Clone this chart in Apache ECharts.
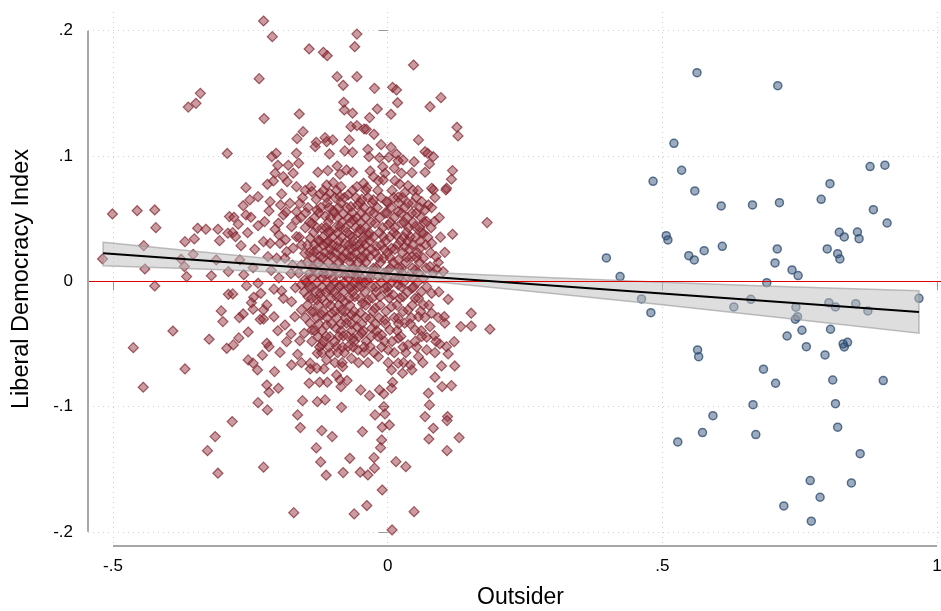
<!DOCTYPE html>
<html><head><meta charset="utf-8">
<script src="https://cdn.jsdelivr.net/npm/echarts@6/dist/echarts.min.js"></script>
<style>html,body{margin:0;padding:0;background:#fff}#c{width:941px;height:611px}</style>
</head><body><div id="c"></div>
<script>
const xTicks=[-0.5,0,0.5,1];
const xTickLabels=['-.5','0','.5','1'];
const yTicks=[-0.2,-0.1,0,0.1,0.2];
const yTickLabels=['-.2','-.1','0','.1','.2'];
const xTitle='Outsider';
const yTitle='Liberal Democracy Index';

// Outsider = 0 group (red diamonds): [outsider, liberal democracy index]
const redPts=[
[-0.341,0.150],[-0.349,0.142],[-0.363,0.139],[-0.292,0.102],
[-0.226,0.2077],[-0.210,0.1952],[-0.143,0.1854],[-0.117,0.1827],[-0.110,0.180],[-0.056,0.1973],[-0.060,0.1872],[-0.234,0.1617],[-0.092,0.1633],[-0.081,0.1564],[-0.056,0.1633],[-0.080,0.1428],[-0.079,0.1367],[-0.064,0.1341],[-0.225,0.1298],[-0.161,0.1335],[-0.154,0.1194],[-0.165,0.1138],[-0.067,0.1234],[-0.056,0.1242],[-0.043,0.1215],[-0.130,0.1109],[-0.132,0.1074],[-0.114,0.1146],[-0.111,0.1114],[-0.100,0.1128],[-0.070,0.1128],[-0.078,0.104],[-0.064,0.1029],[-0.106,0.1016],[-0.166,0.1021],[-0.162,0.0942],[-0.203,0.1021],[-0.211,0.0994],[-0.200,0.0926],[-0.181,0.0926],[-0.172,0.0862],[-0.205,0.0862],[-0.190,0.0835],[-0.183,0.0795],[-0.127,0.0870],[-0.109,0.0883],[-0.092,0.0920],[-0.087,0.0854],[-0.075,0.0888],[-0.064,0.0870],[-0.258,0.0747],[-0.219,0.0774],[-0.208,0.0800],[-0.166,0.0755],[-0.140,0.0755],[-0.111,0.0768],[-0.099,0.0787],[-0.085,0.0755],[-0.056,0.0755],[-0.044,0.0782],
[0.047,0.1726],[-0.024,0.154],[0.009,0.1548],[0.016,0.1527],[0.018,0.1425],[0.097,0.1465],[0.077,0.1393],[-0.019,0.1375],[-0.033,0.1306],[0.006,0.1333],[-0.039,0.1213],[-0.025,0.1173],[0.126,0.1229],[0.128,0.116],[0.056,0.1128],[-0.012,0.109],[-0.036,0.1053],[0.006,0.1069],[-0.034,0.0994],[-0.015,0.0986],[0.002,0.099],[0.016,0.1016],[0.068,0.1034],[0.073,0.1021],[0.083,0.0994],[0.019,0.0962],[0.028,0.0968],[0.048,0.0954],[0.076,0.0936],[-0.009,0.0914],[0.012,0.0902],[-0.032,0.0880],[-0.005,0.0862],[0.025,0.0862],[0.044,0.0867],[0.068,0.0870],[0.118,0.0883],[0.116,0.0814],[-0.026,0.0835],[-0.017,0.0803],[-0.008,0.0808],[0.013,0.0803],[0.022,0.0776],[0.037,0.0763],[0.080,0.0742],[0.107,0.0742],[-0.038,0.0747],
[-0.501,0.0537],[-0.456,0.0563],[-0.424,0.0569],[-0.422,0.0428],[-0.444,0.0284],[-0.519,0.0178],[-0.442,0.0098],[-0.424,-0.0038],[-0.369,0.0316],[-0.352,0.0338],[-0.346,0.0423],[-0.331,0.0415],[-0.309,0.0415],[-0.306,0.0324],[-0.291,0.0383],[-0.288,0.0516],[-0.354,0.0215],[-0.376,0.0176],[-0.370,0.0117],[-0.366,0.0037],[-0.290,0.0077],[-0.290,-0.0104],[-0.303,-0.0237],[-0.391,-0.0397],[-0.325,-0.0463],[-0.463,-0.0530],[-0.293,-0.0535],[-0.369,-0.0700],
[-0.445,-0.0846],[-0.314,-0.1240],[-0.328,-0.1352],[-0.309,-0.1532],
[-0.237,-0.0708],[-0.206,-0.0721],[-0.220,-0.0828],[-0.216,-0.0886],[-0.199,-0.0854],[-0.236,-0.0969],[-0.219,-0.1027],[-0.283,-0.1120],[-0.143,-0.0814],[-0.124,-0.0806],[-0.110,-0.0806],[-0.155,-0.0953],[-0.128,-0.0961],[-0.114,-0.0947],[-0.093,-0.0748],[-0.087,-0.0788],[-0.085,-0.0841],[-0.074,-0.0793],[-0.049,-0.0867],[-0.084,-0.1006],[-0.164,-0.1067],[-0.159,-0.1168],[-0.120,-0.1192],[-0.101,-0.1240],[-0.046,-0.1200],[-0.130,-0.1330],[-0.069,-0.1413],[-0.122,-0.1442],[-0.112,-0.1548],[-0.081,-0.1527],[-0.050,-0.1524],[-0.226,-0.1484],[-0.171,-0.1847],[-0.061,-0.1857],[-0.038,-0.179],[-0.141,-0.070],[-0.116,-0.070],
[0.007,-0.0708],[0.027,-0.0734],[0.044,-0.0708],[0.086,-0.0766],[0.099,-0.0841],[0.116,-0.0833],[0.074,-0.0894],[0.076,-0.0987],[-0.033,-0.0913],[-0.015,-0.0867],[-0.007,-0.0899],[0.007,-0.0854],[0.009,-0.0806],[-0.007,-0.1001],[-0.023,-0.1067],[-0.005,-0.1059],[0.068,-0.1080],[0.109,-0.1080],[0.108,-0.1112],[-0.010,-0.1165],[0.003,-0.1147],[0.083,-0.1173],[0.075,-0.1259],[0.130,-0.1248],[-0.011,-0.1267],[-0.013,-0.1328],[0.108,-0.1352],[-0.025,-0.1408],[0.015,-0.144],[0.033,-0.148],[-0.024,-0.1492],[-0.036,-0.1546],[-0.010,-0.1666],[0.048,-0.1839],[0.008,-0.1985],
[-0.263,0.0603],[-0.280,0.0511],[-0.258,0.0529],[-0.249,0.0511],[-0.216,0.0561],[-0.195,0.0609],[-0.193,0.0697],[-0.282,0.0388],[-0.277,0.0356],[-0.242,0.0255],[-0.226,0.0316],[-0.214,0.0303],[-0.198,0.0369],[-0.196,0.0303],[-0.218,0.0196],[-0.202,0.0184],[-0.184,0.0236],[-0.166,0.0356],[-0.157,0.0290],[-0.269,0.0170],[-0.257,-0.0035],[-0.236,-0.0016],[-0.231,-0.0096],[-0.282,-0.0101],[-0.248,-0.0171],[-0.245,-0.0223],[-0.220,-0.0189],[-0.226,-0.0229],[-0.263,-0.0261],[-0.270,-0.0290],[-0.226,-0.0301],[-0.207,-0.0283],[-0.193,-0.0077],[-0.190,-0.0136],[-0.175,-0.0163],[-0.169,-0.0283],[-0.187,-0.0349],[-0.152,-0.0415],[-0.138,-0.0389],[-0.281,-0.0508],[-0.220,-0.0495],[-0.216,-0.0522],[-0.184,-0.0482],[-0.254,-0.0628],[-0.245,-0.0654],[-0.175,-0.0668],[-0.141,-0.0654],[-0.128,-0.0575],[-0.120,-0.0508],[-0.111,-0.0628],[-0.096,-0.0650],[-0.082,-0.0682],[-0.129,-0.0694],
[-0.199,0.0463],[-0.190,0.0529],[-0.175,0.0436],[-0.166,0.0555],[-0.178,0.0622],[-0.214,0.0635],[-0.236,0.0675],[-0.251,0.0649],[-0.166,0.0489],[-0.187,0.0184],
[-0.160,0.0622],[-0.138,0.0715],[-0.130,0.0654],[-0.123,0.0697],[-0.105,0.0702],[-0.087,0.0675],[-0.072,0.0689],[-0.055,0.0609],[-0.067,0.0595],[-0.047,0.0654],[-0.149,0.0547],[-0.129,0.0569],[-0.114,0.0521],[-0.099,0.0563],[-0.081,0.0537],[-0.063,0.0489],[-0.138,0.0463],[-0.120,0.0423],[-0.105,0.0396],[-0.087,0.0436],[-0.069,0.0369],[-0.050,0.0415],[-0.141,0.0343],[-0.126,0.0330],[-0.111,0.0303],[-0.093,0.0276],[-0.078,0.0303],[-0.060,0.0276],[-0.151,0.0223],[-0.134,0.0236],[-0.123,0.0196],[-0.105,0.0210],[-0.084,0.0184],[-0.069,0.0196],[-0.050,0.0184],[-0.157,-0.0030],[-0.138,-0.0048],[-0.123,-0.0096],[-0.105,-0.0069],[-0.087,-0.0030],[-0.070,-0.0056],[-0.054,-0.0043],[-0.145,-0.0123],[-0.129,-0.0149],[-0.111,-0.0176],[-0.093,-0.0123],[-0.078,-0.0163],[-0.060,-0.0123],[-0.046,-0.0176],[-0.157,-0.0229],[-0.135,-0.0243],[-0.120,-0.0269],[-0.102,-0.0255],[-0.084,-0.0229],[-0.066,-0.0269],[-0.050,-0.0251],[-0.141,-0.0335],[-0.111,-0.0349],[-0.094,-0.0375],[-0.075,-0.0335],[-0.056,-0.0362],[-0.105,-0.0442],[-0.081,-0.0437],[-0.063,-0.0455],[-0.047,-0.0415],[-0.093,-0.0522],[-0.072,-0.0522],[-0.054,-0.0548],[-0.105,-0.0575],[-0.066,-0.0615],[-0.157,0.0130],[-0.135,0.0104],[-0.117,0.0064],[-0.096,0.0090],[-0.078,0.0050],[-0.060,0.0077],[-0.047,0.0024],[-0.151,0.0010],[-0.111,-0.0003],
[0.181,0.0468],[0.118,0.0375],[0.104,0.0231],[0.101,0.0077],[0.110,-0.0144],[0.152,-0.0255],[0.152,-0.0357],[0.133,-0.0362],[0.186,-0.0383],[0.106,0.0729],[0.083,0.0729],[0.019,0.0670],[0.085,0.0476],[0.088,0.0196],[0.089,0.0096],[0.080,-0.0096],[0.080,-0.0255],[0.103,-0.0283],[0.104,-0.0335],[0.107,-0.0522],[0.121,-0.0482],[0.110,-0.0580],[0.122,-0.0676],[0.098,-0.0676],[0.095,-0.0500],[0.071,-0.0548],[0.085,-0.0434],[0.077,-0.0362],[0.071,-0.0447],[0.037,-0.0508],[0.019,-0.0455],[0.001,-0.0548],[-0.017,-0.0602],[-0.032,-0.0522],[0.056,-0.0602],[0.041,-0.0668],[0.019,-0.0654],[-0.029,-0.0375],[-0.011,-0.0429],[0.004,-0.0389],[0.031,-0.0335],[0.050,-0.0389],[0.056,-0.0283],[0.037,-0.0229],[0.019,-0.0295],[-0.005,-0.0309],[-0.032,-0.0295],[-0.023,-0.0215],[0.007,-0.0203],[0.065,-0.0189],[0.050,-0.0136],[0.028,-0.0123],[0.010,-0.0109],[-0.014,-0.0123],[-0.035,-0.0149],[-0.029,-0.0043],[-0.005,-0.0056],[0.019,-0.0030],[0.044,-0.0056],[0.071,-0.0043],[0.065,0.0024],[0.037,0.0037],[0.013,0.0024],[-0.017,0.0037],[-0.038,0.0010],[-0.026,0.0104],[0.001,0.0090],[0.025,0.0104],[0.050,0.0090],[0.077,0.0117],[0.065,0.0184],[0.044,0.0196],[0.019,0.0170],[-0.008,0.0184],[-0.032,0.0196],[-0.020,0.0276],[0.007,0.0263],[0.031,0.0276],[0.059,0.0263],[0.080,0.0303],[0.065,0.0383],[0.041,0.0356],[0.016,0.0369],[-0.008,0.0356],[-0.035,0.0369],[-0.023,0.0463],[0.001,0.0449],[0.025,0.0463],[0.050,0.0436],[0.071,0.0476],[0.068,0.0569],[0.044,0.0543],[0.019,0.0555],[-0.005,0.0543],[-0.032,0.0555],[-0.026,0.0649],[-0.002,0.0635],[0.037,0.0622],[0.062,0.0635],[0.074,0.0609],[0.031,0.0707],
// dense core (overlapping marks, estimated)
[-0.150,0.0725],[-0.117,0.0725],[-0.093,0.0725],[-0.064,0.0725],[-0.040,0.0725],[-0.018,0.0725],[0.008,0.0725],[0.046,0.0725],[0.055,0.0725],
[-0.155,0.0668],[-0.112,0.0668],[-0.096,0.0668],[-0.079,0.0668],[-0.058,0.0668],[-0.036,0.0668],[-0.012,0.0668],[0.011,0.0668],[0.027,0.0668],[0.052,0.0668],[0.086,0.0668],
[-0.145,0.0588],[-0.122,0.0588],[-0.107,0.0588],[-0.090,0.0588],[-0.074,0.0588],[-0.043,0.0588],[-0.019,0.0588],[0.006,0.0588],[0.031,0.0588],[0.058,0.0588],[0.080,0.0588],
[-0.158,0.0508],[-0.133,0.0508],[-0.104,0.0508],[-0.091,0.0508],[-0.071,0.0508],[-0.056,0.0508],[-0.041,0.0508],[-0.014,0.0508],[0.012,0.0508],[0.036,0.0508],[0.061,0.0508],[0.094,0.0508],
[-0.150,0.0428],[-0.129,0.0428],[-0.112,0.0428],[-0.095,0.0428],[-0.077,0.0428],[-0.058,0.0428],[-0.040,0.0428],[-0.009,0.0428],[0.013,0.0428],[0.038,0.0428],[0.058,0.0428],[0.079,0.0428],
[-0.161,0.0352],[-0.118,0.0352],[-0.101,0.0352],[-0.084,0.0352],[-0.064,0.0352],[-0.045,0.0352],[-0.026,0.0352],[0.004,0.0352],[0.029,0.0352],[0.051,0.0352],[0.073,0.0352],[0.096,0.0352],
[-0.146,0.0290],[-0.133,0.0290],[-0.117,0.0290],[-0.101,0.0290],[-0.071,0.0290],[-0.052,0.0290],[-0.041,0.0290],[-0.012,0.0290],[0.018,0.0290],[0.045,0.0290],[0.069,0.0290],
[-0.142,0.0228],[-0.114,0.0228],[-0.095,0.0228],[-0.076,0.0228],[-0.059,0.0228],[-0.039,0.0228],[-0.023,0.0228],[0.000,0.0228],[0.027,0.0228],[0.054,0.0228],[0.078,0.0228],
[-0.147,0.0150],[-0.126,0.0150],[-0.108,0.0150],[-0.088,0.0150],[-0.068,0.0150],[-0.054,0.0150],[-0.040,0.0150],[-0.013,0.0150],[0.010,0.0150],[0.033,0.0150],[0.058,0.0150],[0.092,0.0150],
[-0.162,0.0065],[-0.142,0.0065],[-0.126,0.0065],[-0.105,0.0065],[-0.087,0.0065],[-0.069,0.0065],[-0.053,0.0065],[-0.030,0.0065],[-0.007,0.0065],[0.026,0.0065],[0.056,0.0065],[0.083,0.0065],
[-0.148,-0.0010],[-0.128,-0.0010],[-0.096,-0.0010],[-0.079,-0.0010],[-0.061,-0.0010],[-0.043,-0.0010],[-0.012,-0.0010],[0.007,-0.0010],[0.029,-0.0010],[0.054,-0.0010],
[-0.152,-0.0085],[-0.132,-0.0085],[-0.113,-0.0085],[-0.097,-0.0085],[-0.080,-0.0085],[-0.064,-0.0085],[-0.041,-0.0085],[-0.020,-0.0085],[0.000,-0.0085],[0.036,-0.0085],[0.061,-0.0085],[0.093,-0.0085],
[-0.146,-0.0190],[-0.126,-0.0190],[-0.104,-0.0190],[-0.089,-0.0190],[-0.069,-0.0190],[-0.040,-0.0190],[-0.014,-0.0190],[0.017,-0.0190],[0.045,-0.0190],[0.075,-0.0190],
[-0.150,-0.0290],[-0.129,-0.0290],[-0.111,-0.0290],[-0.093,-0.0290],[-0.077,-0.0290],[-0.058,-0.0290],[-0.040,-0.0290],[-0.016,-0.0290],[0.012,-0.0290],[0.043,-0.0290],[0.068,-0.0290],[0.092,-0.0290],
[-0.133,-0.0395],[-0.120,-0.0395],[-0.085,-0.0395],[-0.066,-0.0395],[-0.044,-0.0395],[-0.020,-0.0395],[0.017,-0.0395],[0.061,-0.0395],
[-0.138,-0.0480],[-0.117,-0.0480],[-0.096,-0.0480],[-0.061,-0.0480],[-0.039,-0.0480],[-0.006,-0.0480],[0.008,-0.0480],[0.050,-0.0480],[0.088,-0.0480],
[-0.120,-0.0570],[-0.091,-0.0570],[-0.079,-0.0570],[-0.043,-0.0570],[-0.025,-0.0570],[0.012,-0.0570],[0.033,-0.0570],[0.086,-0.0570],
[-0.157,-0.0650],[-0.083,-0.0650],[-0.053,-0.0650],[-0.036,-0.0650],[0.001,-0.0650],[0.029,-0.0650],[0.064,-0.0650],
[-0.272,0.0455],[-0.255,0.0387],[-0.236,0.0443],[-0.224,0.0476],[-0.205,0.0415],[-0.186,0.0331],[-0.172,0.0265],[-0.245,0.0108],[-0.262,0.0052],[-0.212,0.0087],[-0.198,0.0027],[-0.176,0.0061],[-0.168,-0.0052],[-0.207,-0.0063],[-0.232,-0.0305],[-0.200,-0.0395],[-0.176,-0.0421],[-0.254,-0.0405],[-0.271,-0.0452],[-0.196,-0.0568],[-0.164,-0.0583],[-0.228,-0.0590],[-0.300,-0.0322],[-0.312,0.0170],[-0.321,0.0044],[-0.267,0.0284],[-0.244,-0.0128],[-0.173,0.0128],[-0.160,-0.0475],[-0.185,0.0553],
[-0.110,0.0625],[-0.085,0.0625],[-0.050,0.0625],[-0.028,0.0625],[0.000,0.0625],[0.020,0.0625],[0.045,0.0625],
[-0.125,0.0545],[-0.097,0.0545],[-0.064,0.0545],[-0.048,0.0545],[-0.025,0.0545],[-0.001,0.0545],[0.025,0.0545],[0.052,0.0545],
[-0.142,0.0470],[-0.108,0.0470],[-0.083,0.0470],[-0.067,0.0470],[-0.049,0.0470],[-0.030,0.0470],[0.005,0.0470],[0.030,0.0470],[0.046,0.0470],[0.066,0.0470],
[-0.135,0.0390],[-0.108,0.0390],[-0.091,0.0390],[-0.074,0.0390],[-0.053,0.0390],[-0.034,0.0390],[-0.015,0.0390],[0.011,0.0390],[0.034,0.0390],[0.061,0.0390],
[-0.124,0.0320],[-0.108,0.0320],[-0.089,0.0320],[-0.062,0.0320],[-0.046,0.0320],[-0.032,0.0320],[-0.004,0.0320],[0.024,0.0320],[0.036,0.0320],[0.059,0.0320],
[-0.128,0.0255],[-0.105,0.0255],[-0.086,0.0255],[-0.068,0.0255],[-0.048,0.0255],[-0.030,0.0255],[-0.006,0.0255],[0.013,0.0255],[0.040,0.0255],
[-0.137,0.0190],[-0.118,0.0190],[-0.099,0.0190],[-0.081,0.0190],[-0.063,0.0190],[-0.044,0.0190],[-0.017,0.0190],[0.004,0.0190],[0.035,0.0190],[0.052,0.0190],
[-0.137,0.0105],[-0.116,0.0105],[-0.098,0.0105],[-0.083,0.0105],[-0.064,0.0105],[-0.045,0.0105],[-0.021,0.0105],[0.005,0.0105],[0.020,0.0105],[0.045,0.0105],[0.070,0.0105],
[-0.138,0.0025],[-0.119,0.0025],[-0.100,0.0025],[-0.072,0.0025],[-0.057,0.0025],[-0.032,0.0025],[-0.001,0.0025],[0.020,0.0025],[0.046,0.0025],
[-0.143,-0.0045],[-0.120,-0.0045],[-0.104,-0.0045],[-0.088,-0.0045],[-0.066,-0.0045],[-0.048,-0.0045],[-0.022,-0.0045],[0.000,-0.0045],[0.025,-0.0045],[0.047,-0.0045],
[-0.138,-0.0135],[-0.120,-0.0135],[-0.103,-0.0135],[-0.085,-0.0135],[-0.069,-0.0135],[-0.050,-0.0135],[-0.028,-0.0135],[0.003,-0.0135],[0.022,-0.0135],[0.056,-0.0135],
[-0.139,-0.0240],[-0.117,-0.0240],[-0.096,-0.0240],[-0.078,-0.0240],[-0.061,-0.0240],[-0.027,-0.0240],[-0.003,-0.0240],[0.028,-0.0240],[0.060,-0.0240],
[-0.125,-0.0340],[-0.102,-0.0340],[-0.085,-0.0340],[-0.066,-0.0340],[-0.047,-0.0340],[-0.022,-0.0340],[-0.004,-0.0340],[0.020,-0.0340],[0.041,-0.0340],
[-0.127,-0.0440],[-0.112,-0.0440],[-0.089,-0.0440],[-0.072,-0.0440],[-0.053,-0.0440],[-0.030,-0.0440],[-0.018,-0.0440],[0.024,-0.0440],[0.062,-0.0440],
[-0.124,-0.0525],[-0.107,-0.0525],[-0.082,-0.0525],[-0.063,-0.0525],[-0.043,-0.0525],[-0.011,-0.0525],[0.028,-0.0525],[0.053,-0.0525]
];

// Outsider = 1 group (blue circles)
const bluePts=[
[0.563,0.1665],[0.521,0.1101],[0.535,0.0886],[0.483,0.0798],[0.559,0.0721],[0.607,0.0601],[0.664,0.0609],[0.507,0.0364],[0.510,0.0330],[0.398,0.0186],[0.548,0.0204],[0.558,0.0170],[0.576,0.0244],[0.609,0.0279],[0.423,0.0037],[0.462,-0.0141],[0.479,-0.0251],[0.630,-0.0205],[0.661,-0.0144],[0.564,-0.0548],[0.566,-0.0602],[0.665,-0.0985],[0.592,-0.1073],[0.573,-0.1208],[0.528,-0.1282],[0.670,-0.1224],
[0.710,0.1561],[0.878,0.0915],[0.905,0.0926],[0.805,0.0779],[0.713,0.0627],[0.789,0.0654],[0.884,0.0571],[0.909,0.0465],[0.822,0.0391],[0.831,0.0354],[0.855,0.0393],[0.858,0.0340],[0.709,0.0258],[0.800,0.0258],[0.819,0.0220],[0.823,0.0178],[0.705,0.0146],[0.736,0.0090],[0.747,0.0045],[0.690,-0.0011],[0.967,-0.0136],[0.743,-0.0207],[0.746,-0.0283],[0.742,-0.0303],[0.803,-0.0171],[0.815,-0.0205],[0.852,-0.0179],[0.874,-0.0237],[0.754,-0.0391],[0.806,-0.0383],[0.727,-0.0437],[0.837,-0.0487],[0.829,-0.0500],[0.831,-0.0524],[0.762,-0.0522],[0.796,-0.0588],[0.684,-0.0702],[0.706,-0.0814],[0.810,-0.0788],[0.902,-0.0793],[0.815,-0.0977],[0.819,-0.1165],[0.860,-0.1376],[0.769,-0.1591],[0.844,-0.1610],[0.787,-0.1724],[0.721,-0.1793],[0.771,-0.1915]
];

// Linear fit and its 95% confidence band
const fitX=[-0.518,0.967];
const fitY=[0.0223,-0.0245];
const bandX=[-0.518,-0.3,-0.1,0.1,0.3,0.5,0.7,0.967];
const bandLo=[0.0123,0.0091,0.0052,-0.0010,-0.0097,-0.0188,-0.0283,-0.0414];
const bandHi=[0.0312,0.0217,0.0130,0.0066,0.0027,-0.0008,-0.0039,-0.0076];

const X_MIN=-0.5455, X_MAX=1.0071, Y_MIN=-0.2113, Y_MAX=0.2149;
const FONT='"Liberation Sans", Arial, sans-serif';
function lab(ticks,labels){return v=>{for(let i=0;i<ticks.length;i++){if(Math.abs(ticks[i]-v)<1e-9)return labels[i];}return '';};}

const chart=echarts.init(document.getElementById('c'),null,{renderer:'canvas'});
chart.setOption({
  animation:false,
  backgroundColor:'#ffffff',
  grid:{left:88,right:0,top:12,bottom:65,containLabel:false,outerBoundsMode:'none'},
  xAxis:{type:'value',min:X_MIN,max:X_MAX,
    name:xTitle,nameLocation:'middle',nameGap:40,
    nameTextStyle:{fontFamily:FONT,fontSize:23,color:'#000',padding:[0,0,0,12]},
    axisLine:{show:false},
    axisTick:{show:true,customValues:xTicks,length:9,lineStyle:{color:'#9a9a9a',width:1}},
    axisLabel:{show:true,customValues:xTicks,formatter:lab(xTicks,xTickLabels),margin:12,fontFamily:FONT,fontSize:17,color:'#000'},
    splitLine:{show:true,lineStyle:{color:'#cfcfcf',width:1,type:[1,4]}}
  },
  yAxis:{type:'value',min:Y_MIN,max:Y_MAX,
    name:yTitle,nameLocation:'middle',nameGap:54,nameRotate:90,
    nameTextStyle:{fontFamily:FONT,fontSize:23.5,color:'#000'},
    axisLine:{show:false},
    axisTick:{show:true,customValues:yTicks,length:9,lineStyle:{color:'#9a9a9a',width:1}},
    axisLabel:{show:true,customValues:yTicks,formatter:lab(yTicks,yTickLabels),margin:15,fontFamily:FONT,fontSize:17,color:'#000'},
    splitLine:{show:true,lineStyle:{color:'#cfcfcf',width:1,type:[1,4]}}
  },
  series:[
    {type:'scatter',name:'red',data:redPts,symbol:'diamond',symbolSize:10,clip:false,z:2,
      itemStyle:{color:'rgba(145,45,56,0.6)',borderColor:'rgba(130,36,46,0.9)',borderWidth:1.2}},
    {type:'scatter',name:'blue',data:bluePts,symbol:'circle',symbolSize:8,clip:false,z:2,
      itemStyle:{color:'rgba(55,86,124,0.62)',borderColor:'rgba(45,75,112,0.95)',borderWidth:1.5}},
    {type:'line',name:'zero',data:[],z:3,silent:true,
      markLine:{silent:true,symbol:['none','none'],label:{show:false},
        lineStyle:{color:'#e00000',width:1,type:'solid'},data:[{yAxis:0}]}},
    {type:'custom',name:'band',z:4,silent:true,clip:false,
      data:[[bandX[0],bandLo[0]]],
      renderItem:function(params,api){
        const pts=[];
        for(let i=0;i<bandX.length;i++)pts.push(api.coord([bandX[i],bandHi[i]]));
        for(let i=bandX.length-1;i>=0;i--)pts.push(api.coord([bandX[i],bandLo[i]]));
        return {type:'polygon',shape:{points:pts},style:{fill:'rgba(190,190,190,0.5)',stroke:'rgba(150,150,150,0.6)',lineWidth:1.5}};
      }},
    {type:'line',name:'fit',data:[[fitX[0],fitY[0]],[fitX[1],fitY[1]]],symbol:'none',z:5,silent:true,
      lineStyle:{color:'#000',width:2}},
    {type:'line',name:'yaxisline',data:[[X_MIN,yTicks[0]],[X_MIN,yTicks[yTicks.length-1]]],symbol:'none',z:6,silent:true,clip:false,
      lineStyle:{color:'#a6a6a6',width:2}},
    {type:'line',name:'xaxisline',data:[[xTicks[0],Y_MIN],[xTicks[xTicks.length-1],Y_MIN]],symbol:'none',z:6,silent:true,clip:false,
      lineStyle:{color:'#a6a6a6',width:2}}
  ]
});
</script>
</body></html>
